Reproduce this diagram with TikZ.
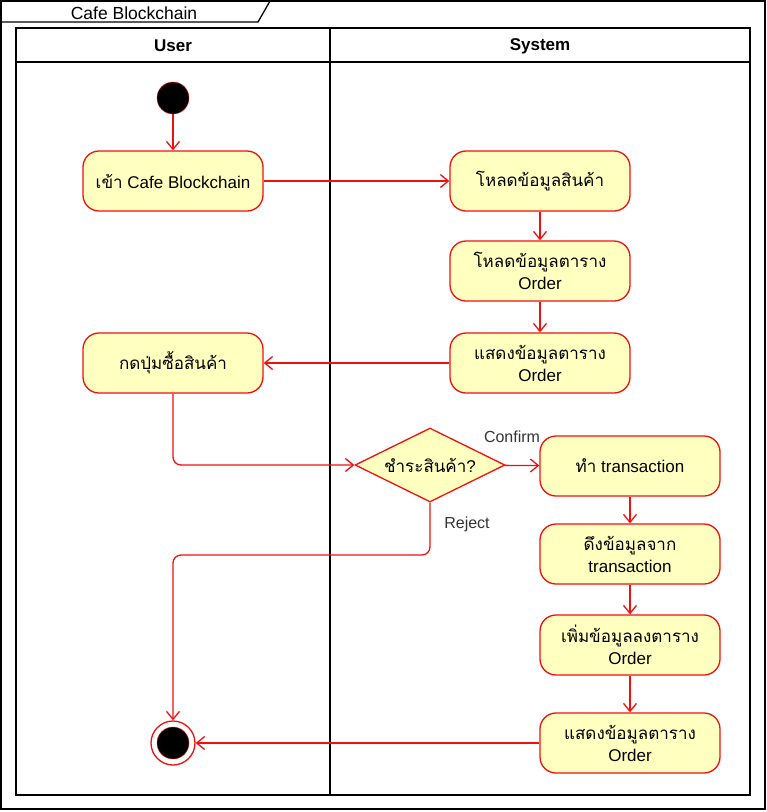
\documentclass[tikz,border=0pt]{standalone}
\usepackage{fontspec}
\setmainfont{Liberation Sans}
\newfontfamily\thaifont[Script=Thai]{Loma}
\usetikzlibrary{shapes.geometric,arrows.meta}
\newcommand{\thai}[1]{{\thaifont #1}}
\definecolor{actline}{HTML}{F01010}
\definecolor{actfill}{HTML}{FFFFC0}
\begin{document}
\begin{tikzpicture}[x=1pt,y=-1pt,
        act/.style = {draw=actline, fill=actfill, rounded corners=16pt, line width=1.3pt,
            minimum width=180pt, minimum height=60pt, align=center,
            font=\fontsize{17}{22}\selectfont},
        dec/.style = {draw=actline, fill=actfill, diamond, aspect=2.2, line width=1.3pt, inner sep=0pt,
            minimum width=150pt, minimum height=74pt, font=\fontsize{17}{22}\selectfont},
        flow/.style = {draw=actline, line width=1.3pt, -{Straight Barb[length=8pt,width=13pt]}},
        lbl/.style = {font=\fontsize{16}{18}\selectfont, text=black!80},
        head/.style = {font=\fontsize{17}{20}\selectfont\bfseries}]
        \useasboundingbox (0,0) rectangle (767,812);
        % frame and lanes
        \draw[line width=1.6pt] (1,1) rectangle (765,809);
        \draw[line width=1.3pt] (1,22) -- (258,22) -- (270,1);
        \node[font=\fontsize{17.5}{20}\selectfont] (title) at (134,13) {Cafe Blockchain};
        \draw[line width=1.6pt] (16,28) rectangle (750,795);
        \draw[line width=1.6pt] (16,62) -- (750,62);
        \draw[line width=1.6pt] (330,28) -- (330,795);
        \node[head] (huser) at (173,46) {User};
        \node[head] (hsys) at (540,46) {System};
        % user lane
        \node[circle, fill=black, draw=actline, minimum size=32pt, inner sep=0pt] (start) at (173,98) {};
        \node[act] (enter) at (173,181) {\thai{เข้า} Cafe Blockchain};
        \node[act] (buy) at (173,363) {\thai{กดปุ่มซื้อสินค้า}};
        \node[circle, draw=actline, line width=1.3pt, minimum size=44pt, inner sep=0pt] (stop) at (173,743) {};
        \node[circle, fill=black, draw=actline, minimum size=32pt, inner sep=0pt] (stopdot) at (stop) {};
        % system lane
        \node[act] (loadprod) at (540,181) {\thai{โหลดข้อมูลสินค้า}};
        \node[act] (loadorder) at (540,271) {\thai{โหลดข้อมูลตาราง}\\Order};
        \node[act] (showorder) at (540,363) {\thai{แสดงข้อมูลตาราง}\\Order};
        \node[dec] (pay) at (430,465) {\thai{ชำระสินค้า}?};
        \node[act] (txn) at (630,466) {\thai{ทำ} transaction};
        \node[act] (fetch) at (630,554) {\thai{ดึงข้อมูลจาก}\\transaction};
        \node[act] (addorder) at (630,645) {\thai{เพิ่มข้อมูลลงตาราง}\\Order};
        \node[act] (showorder2) at (630,743) {\thai{แสดงข้อมูลตาราง}\\Order};
        \node[lbl] (confirm) at (512,437) {Confirm};
        \node[lbl] (reject) at (467,524) {Reject};
        \coordinate (rj) at (430,555);
        % flows
        \draw[flow] (start) -- (enter);
        \draw[flow] (enter) -- (loadprod);
        \draw[flow] (loadprod) -- (loadorder);
        \draw[flow] (loadorder) -- (showorder);
        \draw[flow] (showorder) -- (buy);
        \draw[flow, rounded corners=8pt] (buy) |- (pay);
        \draw[flow] (pay) -- (txn);
        \draw[flow, rounded corners=8pt] (pay) -- (rj) -| (stop);
        \draw[flow] (txn) -- (fetch);
        \draw[flow] (fetch) -- (addorder);
        \draw[flow] (addorder) -- (showorder2);
        \draw[flow] (showorder2) -- (stop);
\end{tikzpicture}
\end{document}
